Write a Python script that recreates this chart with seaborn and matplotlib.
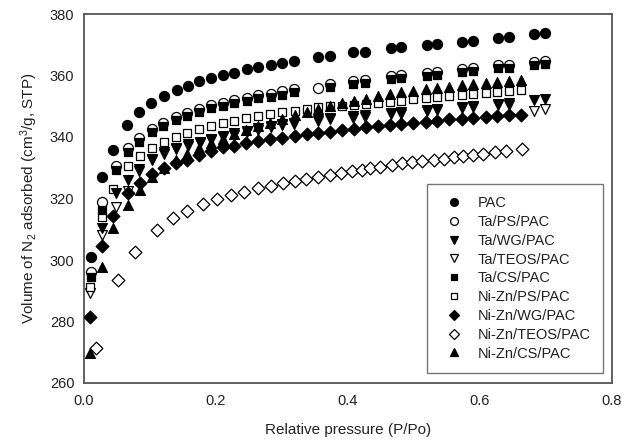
import matplotlib
matplotlib.use("Agg")
import matplotlib.pyplot as plt
from matplotlib.lines import Line2D
import seaborn as sns
import numpy as np

# ---- data ----
x_pac = [0.011, 0.028, 0.0435, 0.0656, 0.0838, 0.1015, 0.1217, 0.1405, 0.157, 0.1747,
         0.192, 0.210, 0.2277, 0.2465, 0.264, 0.283, 0.3005, 0.318, 0.354, 0.373,
         0.408, 0.426, 0.465, 0.481, 0.519, 0.535, 0.573, 0.590, 0.628, 0.644, 0.682, 0.698]
y_pac = [301.1, 327.1, 335.8, 343.9, 348.2, 351.0, 353.4, 355.3, 356.7, 358.2,
         359.3, 360.2, 360.9, 362.0, 362.7, 363.3, 364.1, 364.7, 365.9, 366.3,
         367.5, 367.7, 368.8, 369.2, 369.9, 370.2, 371.0, 371.3, 372.1, 372.4, 373.4, 373.7]

x_ta_ps = [0.011, 0.028, 0.0485, 0.067, 0.084, 0.1026, 0.120, 0.139, 0.1565, 0.1747,
           0.192, 0.210, 0.2277, 0.2465, 0.264, 0.283, 0.3005, 0.318, 0.354, 0.373,
           0.408, 0.426, 0.465, 0.481, 0.519, 0.535, 0.573, 0.590, 0.628, 0.644, 0.682, 0.698]
y_ta_ps = [296.0, 319.0, 330.5, 336.3, 339.6, 342.7, 344.6, 346.5, 347.9, 349.2,
           350.3, 351.2, 352.0, 352.8, 353.6, 354.1, 354.8, 355.5, 355.8, 357.2,
           358.1, 358.6, 359.8, 360.1, 360.8, 361.2, 362.1, 362.5, 363.3, 363.5, 364.4, 364.7]

x_ta_wg = [0.028, 0.0485, 0.066, 0.084, 0.1026, 0.1217, 0.139, 0.157, 0.175, 0.192,
           0.210, 0.2277, 0.2465, 0.264, 0.283, 0.3005, 0.318, 0.354, 0.373, 0.408,
           0.426, 0.465, 0.481, 0.519, 0.535, 0.573, 0.590, 0.628, 0.644, 0.682, 0.698]
y_ta_wg = [310.3, 321.8, 325.9, 329.6, 333.0, 335.0, 336.4, 337.6, 338.5, 339.4,
           340.3, 341.2, 342.1, 342.8, 343.5, 344.2, 344.7, 345.7, 346.1, 346.7,
           347.0, 347.8, 348.0, 348.9, 349.1, 349.8, 350.0, 350.8, 351.0, 352.0, 352.3]

x_ta_teos = [0.0095, 0.028, 0.0485, 0.066, 0.084, 0.1026, 0.1217, 0.139, 0.157, 0.175,
             0.192, 0.210, 0.2277, 0.2465, 0.264, 0.283, 0.3005, 0.318, 0.354, 0.373,
             0.408, 0.426, 0.465, 0.481, 0.519, 0.535, 0.573, 0.590, 0.628, 0.644, 0.682, 0.698]
y_ta_teos = [289.2, 308.1, 317.3, 322.5, 328.8, 332.5, 334.6, 336.0, 337.2, 338.1,
             339.0, 339.9, 340.8, 341.7, 342.4, 343.1, 343.8, 344.3, 345.3, 345.7,
             346.3, 346.6, 347.4, 347.6, 348.5, 348.7, 349.4, 349.6, 350.3, 350.5, 348.6, 349.0]

x_ta_cs = [0.011, 0.028, 0.0485, 0.067, 0.084, 0.1026, 0.120, 0.139, 0.1565, 0.1747,
           0.192, 0.210, 0.2277, 0.2465, 0.264, 0.283, 0.3005, 0.318, 0.373,
           0.408, 0.426, 0.465, 0.481, 0.519, 0.535, 0.573, 0.590, 0.628, 0.644, 0.682, 0.698]
y_ta_cs = [294.6, 316.3, 329.3, 335.2, 338.5, 341.7, 343.6, 345.5, 346.9, 348.2,
           349.3, 350.2, 351.0, 351.8, 352.6, 353.1, 353.8, 354.5, 356.2,
           357.1, 357.6, 358.8, 359.1, 359.8, 360.2, 361.1, 361.5, 362.3, 362.5, 363.4, 363.7]

x_nz = [0.0095, 0.028, 0.0435, 0.067, 0.085, 0.1026, 0.121, 0.139, 0.1565, 0.174,
        0.192, 0.210, 0.228, 0.245, 0.264, 0.282, 0.300, 0.320, 0.3375, 0.354,
        0.373, 0.3905, 0.409, 0.427, 0.445, 0.4636, 0.481, 0.499, 0.518, 0.535,
        0.5535, 0.572, 0.590, 0.6086, 0.626, 0.644, 0.662]
y_nz_ps = [291.3, 313.9, 323.0, 330.6, 333.8, 336.3, 338.3, 340.1, 341.4, 342.6,
           343.6, 344.5, 345.2, 346.1, 346.8, 347.5, 348.0, 348.5, 349.1, 349.7,
           350.1, 350.2, 350.4, 350.7, 351.2, 351.5, 351.8, 352.3, 352.6, 352.9,
           353.3, 353.7, 354.0, 354.4, 354.7, 355.1, 355.3]
y_nz_wg = [281.6, 304.6, 314.3, 321.7, 325.1, 327.9, 330.0, 331.4, 332.5, 334.1,
           335.5, 336.6, 337.2, 338.0, 338.7, 339.2, 339.8, 340.3, 340.9, 341.3,
           341.7, 342.2, 342.7, 343.2, 343.5, 343.8, 344.2, 344.6, 344.9, 345.3,
           345.7, 346.0, 346.3, 346.5, 346.7, 347.0, 347.2]
y_nz_cs = [269.7, 297.8, 310.5, 317.9, 322.8, 327.0, 330.0, 332.5, 334.5, 336.3,
           338.0, 339.5, 341.0, 342.3, 343.5, 344.7, 345.8, 347.0, 348.0, 349.0,
           350.0, 351.0, 351.8, 352.5, 353.3, 353.9, 354.5, 355.0, 355.5, 356.0,
           356.4, 356.8, 357.1, 357.5, 357.8, 358.1, 358.4]

x_nz_teos = [0.018, 0.052, 0.077, 0.110, 0.135, 0.156, 0.181, 0.202, 0.222, 0.242,
             0.264, 0.283, 0.302, 0.320, 0.337, 0.355, 0.373, 0.390, 0.406, 0.421,
             0.434, 0.449, 0.467, 0.482, 0.497, 0.512, 0.530, 0.545, 0.560, 0.575,
             0.590, 0.604, 0.622, 0.640, 0.663]
y_nz_teos = [271.3, 293.5, 302.7, 309.8, 313.6, 316.0, 318.2, 319.7, 321.1, 322.2,
             323.3, 324.1, 324.9, 325.7, 326.4, 327.0, 327.6, 328.2, 328.9, 329.4,
             329.9, 330.4, 330.9, 331.4, 331.8, 332.2, 332.6, 333.0, 333.4, 333.8,
             334.2, 334.6, 335.0, 335.5, 336.0]

labels = ["PAC", "Ta/PS/PAC", "Ta/WG/PAC", "Ta/TEOS/PAC", "Ta/CS/PAC",
          "Ni-Zn/PS/PAC", "Ni-Zn/WG/PAC", "Ni-Zn/TEOS/PAC", "Ni-Zn/CS/PAC"]
series = {
    "PAC": (x_pac, y_pac, "o", True),
    "Ta/PS/PAC": (x_ta_ps, y_ta_ps, "o", False),
    "Ta/WG/PAC": (x_ta_wg, y_ta_wg, "v", True),
    "Ta/TEOS/PAC": (x_ta_teos, y_ta_teos, "v", False),
    "Ta/CS/PAC": (x_ta_cs, y_ta_cs, "s", True),
    "Ni-Zn/PS/PAC": (x_nz, y_nz_ps, "s", False),
    "Ni-Zn/WG/PAC": (x_nz, y_nz_wg, "D", True),
    "Ni-Zn/TEOS/PAC": (x_nz_teos, y_nz_teos, "D", False),
    "Ni-Zn/CS/PAC": (x_nz, y_nz_cs, "^", True),
}
sizes = {"o": 52, "v": 50, "^": 50, "s": 40, "D": 42}

sns.set_style("white")
plt.rcParams["font.family"] = ["Liberation Sans", "DejaVu Sans"]
plt.rcParams["mathtext.default"] = "regular"

fig = plt.figure(figsize=(6.34, 4.42), dpi=100)
ax = fig.add_axes([84/634, 1-383/442, (612-84)/634, (383-14)/442])

# open markers first (white-filled), filled markers on top
order = [l for l in labels if not series[l][3]] + [l for l in labels if series[l][3]]
for lab in order:
    xs, ys, m, filled = series[lab]
    fc = "black" if filled else "white"
    sns.scatterplot(x=xs, y=ys, marker=m, s=sizes[m], color=fc,
                    edgecolor="black", linewidth=0.9, ax=ax, legend=False, zorder=3)

ax.set_xlim(0, 0.8)
ax.set_ylim(260, 380)
ax.set_xticks([0.0, 0.2, 0.4, 0.6, 0.8])
ax.set_xticklabels(["0.0", "0.2", "0.4", "0.6", "0.8"])
ax.set_yticks(np.arange(260, 381, 20))
for sp in ax.spines.values():
    sp.set_color("#555555")
    sp.set_linewidth(1.3)
ax.tick_params(axis="x", direction="in", length=4, width=1, color="#555555",
               labelsize=10.5, labelcolor="#222222", pad=8)
ax.tick_params(axis="y", direction="out", length=4, width=1, color="#555555",
               labelsize=10.5, labelcolor="#222222", pad=3)
ax.set_xlabel("Relative pressure (P/Po)", fontsize=11, color="#222222", labelpad=11)
ax.set_ylabel("Volume of N$_2$ adsorbed (cm$^3$/g, STP)", fontsize=11,
              color="#222222", labelpad=7)

handles = []
for lab in labels:
    xs, ys, m, filled = series[lab]
    handles.append(Line2D([], [], linestyle="none", marker=m,
                          markersize=np.sqrt(sizes[m]) * 0.78,
                          markerfacecolor="black" if filled else "white",
                          markeredgecolor="black", markeredgewidth=0.9))
leg = ax.legend(handles, labels, loc="lower right", bbox_to_anchor=(603/634, 1-373/442),
                bbox_transform=fig.transFigure, fontsize=10.5, frameon=True,
                fancybox=False, edgecolor="#555555", borderpad=0.85,
                labelspacing=0.33, handletextpad=0.65, handlelength=2.0, borderaxespad=0)
leg.get_frame().set_linewidth(1.0)
for t in leg.get_texts():
    t.set_color("#222222")

fig.savefig("out.png", dpi=100)
